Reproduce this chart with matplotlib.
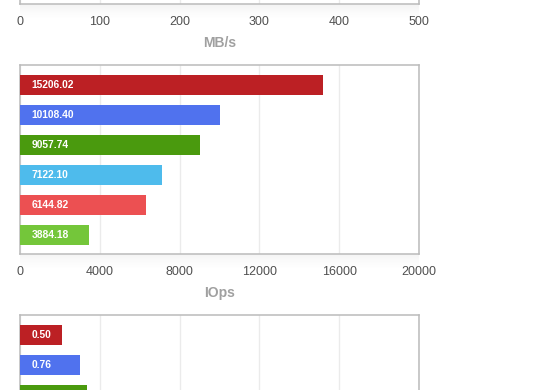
import matplotlib
matplotlib.use('Agg')
import matplotlib.pyplot as plt
import numpy as np

plt.rcParams['font.family'] = ['Liberation Sans', 'DejaVu Sans']

# data
bar_colors = ['#BC2024', '#5072EE', '#4A9A0E', '#4EBBEC', '#EC5052', '#74C63A']
# bar lengths as drawn in the picture, and the labels printed on them
iops_bars = [15190, 10030, 9020, 7120, 6320, 3460]
iops_labels = ['15206.02', '10108.40', '9057.74', '7122.10', '6144.82', '3884.18']
lat_bars = [0.53, 0.75, 0.84]
lat_labels = ['0.50', '0.76']  # third label falls below the crop
mbs_ticks = [0, 100, 200, 300, 400, 500]
iops_ticks = [0, 4000, 8000, 12000, 16000, 20000]
lat_ticks = [0, 1, 2, 3, 4, 5]

W, H = 560, 390
fig = plt.figure(figsize=(W / 100, H / 100), dpi=100)
fig.patch.set_facecolor('white')

FRAME = '#BBBBBB'
GRID = '#EBEBEB'

def px_axes(left, top, right, bottom):
    # pixel box (y from top) -> figure fraction
    return fig.add_axes([left / W, 1 - bottom / H, (right - left) / W, (bottom - top) / H])

def shadow(left, right, bottom):
    # soft grey shade under the frame
    sh = fig.add_axes([left / W, 1 - (bottom + 16) / H, (right - left) / W, 16 / H])
    grad = np.linspace(1, 0, 50).reshape(-1, 1) ** 1.5
    rgba = np.zeros((50, 1, 4))
    rgba[..., :3] = 0.5
    rgba[..., 3] = grad * 0.09
    sh.imshow(rgba, aspect='auto', extent=[0, 1, 0, 1], interpolation='bilinear')
    sh.axis('off')

def style(ax, ticks, xlabel, show_ticks=True):
    ax.set_xlim(ticks[0], ticks[-1])
    ax.set_ylim(5.633, -0.667)
    ax.set_xticks(ticks)
    ax.set_yticks([])
    ax.grid(axis='x', color=GRID, lw=1.0)
    ax.set_axisbelow(True)
    for s in ax.spines.values():
        s.set_color(FRAME)
        s.set_linewidth(1.1)
    if show_ticks:
        ax.tick_params(axis='x', length=0, pad=8.4, labelsize=9, labelcolor='#505050')
        ax.text(0.5, -39 / 189, xlabel, transform=ax.transAxes, ha='center', va='center',
                fontsize=10, fontweight='bold', color='#A0A0A0')
    else:
        ax.tick_params(axis='x', length=0, labelbottom=False)

def bars(ax, values, labels):
    ys = np.arange(len(values))
    ax.barh(ys, values, height=0.667, color=bar_colors[:len(values)], zorder=3)
    for y, lab in zip(ys, labels):
        ax.annotate(lab, xy=(0, y), xytext=(8.2, 0), textcoords='offset points',
                    ha='left', va='center', fontsize=7.4, fontweight='bold', color='white', zorder=4)

# top chart (only its bottom edge is visible)
shadow(20, 419, 4)
ax1 = px_axes(20, 4 - 189, 419, 4)
style(ax1, mbs_ticks, 'MB/s')

# middle chart: IOps
shadow(20, 419, 254)
ax2 = px_axes(20, 65, 419, 254)
style(ax2, iops_ticks, 'IOps')
bars(ax2, iops_bars, iops_labels)

# bottom chart (cut off)
ax3 = px_axes(20, 315, 419, 315 + 189)
style(ax3, lat_ticks, '', show_ticks=False)
bars(ax3, lat_bars, lat_labels)

plt.savefig('out.png', dpi=100, facecolor='white')
plt.close()
